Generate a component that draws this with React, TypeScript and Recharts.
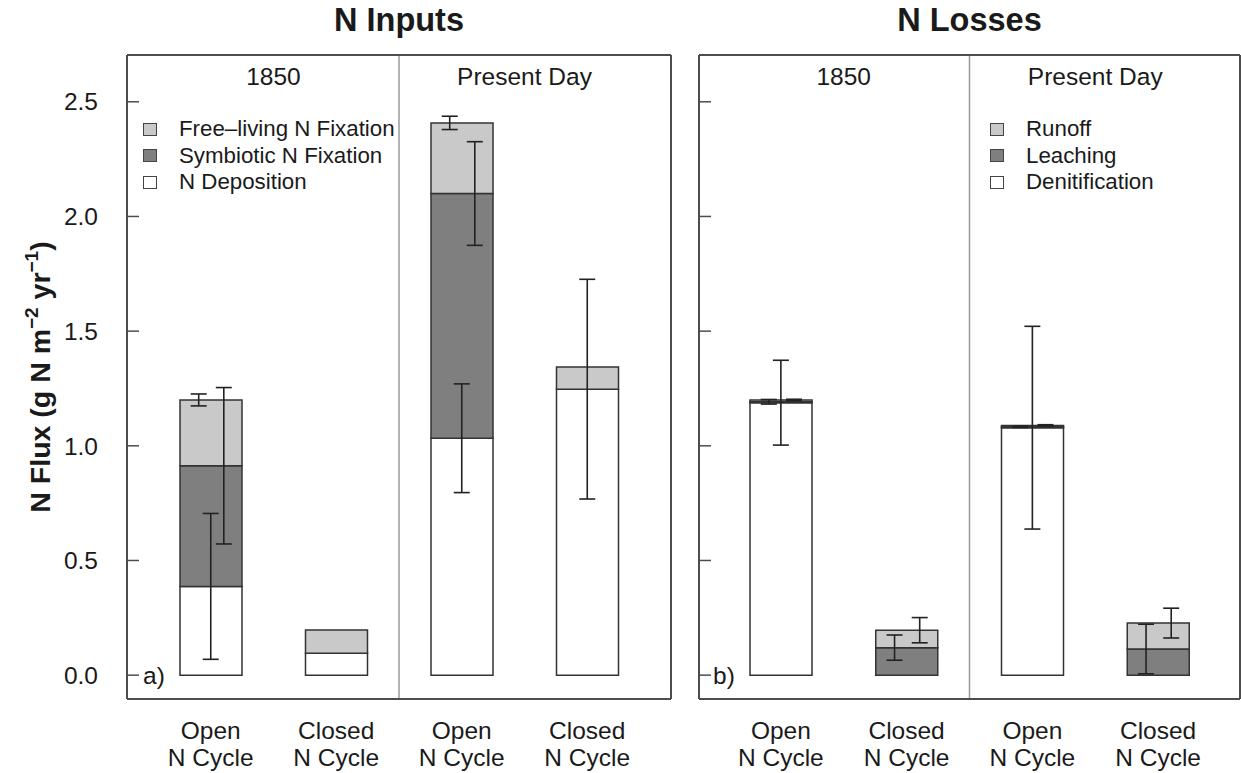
import React from "react"
import {
  ComposedChart,
  Bar,
  XAxis,
  YAxis,
  Scatter,
  ErrorBar,
  ReferenceLine,
  ReferenceDot,
  Legend,
} from "recharts"

const FONT = '"Liberation Sans", Arial, Helvetica, sans-serif'
const INK = "#1a1a1a"
const FRAME = "#4d4d4d"
const LIGHT = "#c9c9c9"
const DARK = "#7f7f7f"
const AXIS_FS = 24.5

// categories
const slots = ["1850 open", "1850 closed", "present open", "present closed"]
const cycleLabels = ["Open", "Closed", "Open", "Closed"]
const periodLabels = ["1850", "Present Day"]
const periodTicks = [1, 3]
const yTicks = [0, 0.5, 1, 1.5, 2, 2.5]
const yDomain = [-0.104, 2.704]

// a) N inputs, stacked bottom to top
const nDeposition = [0.387, 0.096, 1.033, 1.247]
const symbioticFix = [0.526, 0, 1.067, 0]
const freeLivingFix = [0.287, 0.101, 0.308, 0.097]
const nDepositionErr = [0.318, null, 0.237, 0.479]
const symbioticFixErr = [0.341, null, 0.226, null]
const freeLivingFixErr = [0.026, null, 0.029, null]

// b) N losses, stacked bottom to top
const denitrification = [1.188, 0, 1.079, 0]
const leaching = [0.004, 0.12, 0.004, 0.114]
const runoff = [0.008, 0.076, 0.006, 0.113]
const denitrificationErr = [0.185, null, 0.442, null]
const leachingErr = [0.01, 0.055, 0.003, 0.108]
const runoffErr = [0.003, 0.055, 0.003, 0.065]

type Series = {
  key: string
  name: string
  values: number[]
  errors: (number | null)[]
  fill: string
  shift: number // error bar offset, in category widths
}

const inputSeries: Series[] = [
  { key: "deposition", name: "N Deposition", values: nDeposition, errors: nDepositionErr, fill: "#ffffff", shift: 0 },
  { key: "symbiotic", name: "Symbiotic N Fixation", values: symbioticFix, errors: symbioticFixErr, fill: DARK, shift: 0.104 },
  { key: "freeLiving", name: "Free\u2013living N Fixation", values: freeLivingFix, errors: freeLivingFixErr, fill: LIGHT, shift: -0.096 },
]

const lossSeries: Series[] = [
  { key: "denitrification", name: "Denitification", values: denitrification, errors: denitrificationErr, fill: "#ffffff", shift: 0 },
  { key: "leaching", name: "Leaching", values: leaching, errors: leachingErr, fill: DARK, shift: -0.096 },
  { key: "runoff", name: "Runoff", values: runoff, errors: runoffErr, fill: LIGHT, shift: 0.104 },
]

function buildRows(series: Series[]) {
  return slots.map((slot, i) => {
    const row: Record<string, string | number> = { slot }
    series.forEach((s) => {
      row[s.key] = s.values[i]
    })
    return row
  })
}

// error bars sit on the top of their own stack segment
function buildErrorPoints(series: Series[]) {
  const pts: { x: number; y: number; err: number }[] = []
  slots.forEach((_, i) => {
    let top = 0
    series.forEach((s) => {
      top += s.values[i]
      const e = s.errors[i]
      if (e != null) pts.push({ x: i + 0.5 + s.shift, y: top, err: e })
    })
  })
  return pts
}

function CycleTick({ x, y, payload }: any) {
  return (
    <text x={x} y={y} textAnchor="middle" fontSize={AXIS_FS} fontFamily={FONT} fill={INK}>
      <tspan x={x} dy={40}>{cycleLabels[payload.index]}</tspan>
      <tspan x={x} dy={27}>N Cycle</tspan>
    </text>
  )
}

function PeriodTick({ x, y, payload }: any) {
  return (
    <text x={x} y={y + 30} textAnchor="middle" fontSize={AXIS_FS} fontFamily={FONT} fill={INK}>
      {periodLabels[payload.index]}
    </text>
  )
}

function TagLabel({ viewBox, text }: any) {
  return (
    <text x={viewBox.x - 5} y={viewBox.y} dy="0.35em" fontSize={AXIS_FS} fontFamily={FONT} fill={INK}>
      {text}
    </text>
  )
}

function FluxLabel({ viewBox }: any) {
  const cx = 50
  const cy = viewBox.y + viewBox.height / 2
  return (
    <text
      x={cx}
      y={cy}
      transform={`rotate(-90 ${cx} ${cy})`}
      textAnchor="middle"
      fontSize={28.5}
      fontWeight="bold"
      fontFamily={FONT}
      fill={INK}
    >
      N Flux (g N m
      <tspan fontSize={19} dy={-12}>{"\u22122"}</tspan>
      <tspan dy={12}> yr</tspan>
      <tspan fontSize={19} dy={-12}>{"\u22121"}</tspan>
      <tspan dy={12}>)</tspan>
    </text>
  )
}

function LegendBox({ items }: { items: Series[] }) {
  return (
    <div style={{ fontFamily: FONT, fontSize: 22.3, color: INK }}>
      {items.map((it) => (
        <div key={it.key} style={{ display: "flex", alignItems: "center", height: 26.5 }}>
          <span
            style={{
              display: "inline-block",
              width: 14,
              height: 13,
              background: it.fill,
              border: "1.5px solid #444",
              boxSizing: "border-box",
              marginRight: 22,
            }}
          />
          <span style={{ whiteSpace: "nowrap" }}>{it.name}</span>
        </div>
      ))}
    </div>
  )
}

type PanelProps = {
  left: number
  width: number
  margin: { top: number; right: number; bottom: number; left: number }
  pad: number
  showValues: boolean
  title: string
  tag: string
  series: Series[]
  legendAt: { left: number; top: number }
}

function Panel({ left, width, margin, pad, showValues, title, tag, series, legendAt }: PanelProps) {
  const rows = buildRows(series)
  const errPoints = buildErrorPoints(series)
  const legendItems = [...series].reverse()
  const axisW = showValues ? 127 : 1
  const plotLeft = margin.left + axisW
  const plotRight = width - margin.right - 1
  const frame = { stroke: FRAME, strokeWidth: 2 }

  return (
    <div style={{ position: "absolute", left, top: 0, width, height: 773 }}>
      <div
        style={{
          position: "absolute",
          left: plotLeft,
          width: plotRight - plotLeft,
          top: 2,
          textAlign: "center",
          fontFamily: FONT,
          fontWeight: "bold",
          fontSize: 32.5,
          color: INK,
        }}
      >
        {title}
      </div>
      <ComposedChart width={width} height={773} data={rows} margin={margin}>
        <XAxis
          xAxisId="cat"
          dataKey="slot"
          height={74}
          padding={{ left: pad, right: pad }}
          interval={0}
          tickLine={false}
          tickSize={0}
          tickMargin={0}
          axisLine={frame}
          tick={<CycleTick />}
        />
        <XAxis
          xAxisId="num"
          dataKey="x"
          type="number"
          orientation="top"
          domain={[0, 4]}
          allowDataOverflow
          height={1}
          padding={{ left: pad, right: pad }}
          ticks={periodTicks}
          interval={0}
          tickLine={false}
          tickSize={0}
          tickMargin={0}
          axisLine={frame}
          tick={<PeriodTick />}
        />
        <YAxis
          yAxisId="val"
          type="number"
          domain={yDomain}
          allowDataOverflow
          ticks={yTicks}
          interval={0}
          width={axisW}
          tick={showValues ? { fill: INK, fontSize: AXIS_FS, fontFamily: FONT } : false}
          tickLine={false}
          tickSize={0}
          tickMargin={29}
          tickFormatter={(v: number) => v.toFixed(1)}
          axisLine={frame}
          label={showValues ? <FluxLabel /> : undefined}
        />
        <YAxis
          yAxisId="inner"
          type="number"
          mirror
          domain={yDomain}
          allowDataOverflow
          ticks={yTicks}
          interval={0}
          width={1}
          tick={() => <g />}
          tickSize={12}
          axisLine={false}
          tickLine={{ stroke: FRAME, strokeWidth: 1.5 }}
        />
        <YAxis
          yAxisId="edge"
          type="number"
          orientation="right"
          domain={yDomain}
          allowDataOverflow
          width={1}
          tick={false}
          tickLine={false}
          axisLine={frame}
        />
        <ReferenceLine xAxisId="num" yAxisId="val" x={2} stroke="#9a9a9a" strokeWidth={1.5} />
        {series.map((s) => (
          <Bar
            key={s.key}
            xAxisId="cat"
            yAxisId="val"
            dataKey={s.key}
            name={s.name}
            stackId="n"
            fill={s.fill}
            stroke="#333"
            strokeWidth={1.5}
            barSize={62}
            isAnimationActive={false}
          />
        ))}
        <Scatter
          xAxisId="num"
          yAxisId="val"
          data={errPoints}
          dataKey="y"
          shape={() => <g />}
          legendType="none"
          isAnimationActive={false}
        >
          <ErrorBar dataKey="err" direction="y" width={8} stroke="#222" strokeWidth={1.6} />
        </Scatter>
        <ReferenceDot xAxisId="num" yAxisId="val" x={0} y={0} r={0} label={<TagLabel text={tag} />} />
        <Legend
          layout="vertical"
          align="center"
          verticalAlign="middle"
          wrapperStyle={{ left: legendAt.left, top: legendAt.top, width: 280 }}
          content={() => <LegendBox items={legendItems} />}
        />
      </ComposedChart>
    </div>
  )
}

export default function App() {
  return (
    <div style={{ position: "absolute", left: 0, top: 0, width: 1241, height: 773, background: "#fff" }}>
      <Panel
        left={0}
        width={680}
        margin={{ top: 54, right: 8, bottom: 0, left: 0 }}
        pad={21}
        showValues
        title="N Inputs"
        tag="a)"
        series={inputSeries}
        legendAt={{ left: 143, top: 116 }}
      />
      <Panel
        left={690}
        width={551}
        margin={{ top: 54, right: 0, bottom: 0, left: 8 }}
        pad={19}
        showValues={false}
        title="N Losses"
        tag="b)"
        series={lossSeries}
        legendAt={{ left: 300, top: 116 }}
      />
    </div>
  )
}
